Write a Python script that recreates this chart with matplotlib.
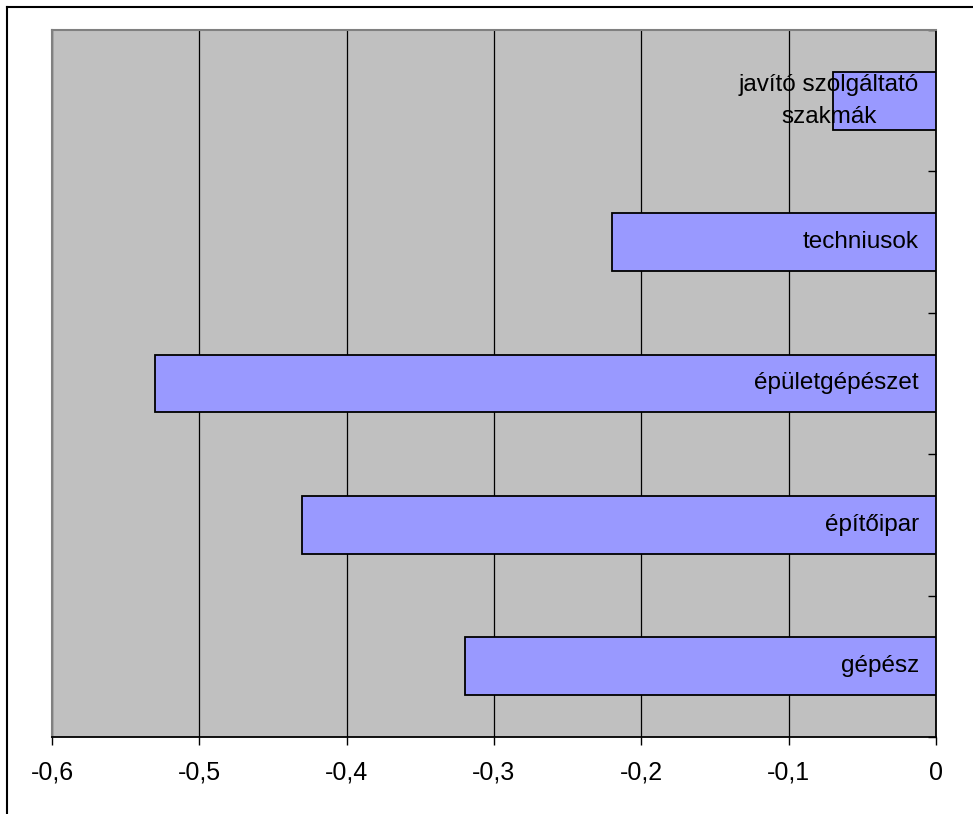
import matplotlib
matplotlib.use("Agg")
import matplotlib.pyplot as plt
from matplotlib.ticker import FuncFormatter, FixedLocator
from matplotlib.lines import Line2D

categories = ["gépész", "építőipar", "épületgépészet", "techniusok", "javító szolgáltató\nszakmák"]
values = [-0.32, -0.43, -0.53, -0.22, -0.07]
xticks = [-0.6, -0.5, -0.4, -0.3, -0.2, -0.1, 0.0]

plt.rcParams['font.family'] = ['Liberation Sans', 'DejaVu Sans']

fig = plt.figure(figsize=(9.73, 8.14), dpi=100)
ax = fig.add_axes([52/973, 1 - 737/814, (936-52)/973, (737-30)/814])
ax.set_facecolor('#C0C0C0')

ypos = list(range(len(categories)))
ax.barh(ypos, values, height=0.41, color='#9999FF', edgecolor='black', linewidth=1.3, zorder=3)

ax.set_xlim(-0.6, 0)
ax.set_ylim(-0.5, len(categories) - 0.5)
ax.xaxis.set_major_locator(FixedLocator(xticks))
ax.xaxis.set_major_formatter(FuncFormatter(lambda v, p: ("%g" % round(v, 2)).replace('.', ',') if abs(v) > 1e-9 else "0"))
ax.tick_params(axis='x', direction='out', length=6, width=1, labelsize=18, pad=11, colors='black')
ax.grid(axis='x', color='black', linewidth=0.9, zorder=1)
ax.set_axisbelow(True)

ax.yaxis.tick_right()
ax.yaxis.set_major_locator(FixedLocator([i - 0.5 for i in range(len(categories) + 1)]))
ax.yaxis.set_ticklabels([])
ax.tick_params(axis='y', direction='in', length=6, width=1, colors='black')

for s in ['left', 'top']:
    ax.spines[s].set_color('#808080')
    ax.spines[s].set_linewidth(1.5)
for s in ['bottom', 'right']:
    ax.spines[s].set_color('black')
    ax.spines[s].set_linewidth(1.3)

for y, lab in zip(ypos, categories):
    ax.annotate(lab, xy=(0, y), xytext=(-12.3, 0), textcoords='offset points',
                ha='right', va='center', multialignment='center', fontsize=17.5,
                color='black', zorder=5, linespacing=1.6)

fig.add_artist(Line2D([7/973, 7/973], [0, 1 - 7/814], color='black', linewidth=1.5, transform=fig.transFigure))
fig.add_artist(Line2D([7/973, 1], [1 - 7/814, 1 - 7/814], color='black', linewidth=1.5, transform=fig.transFigure))

fig.savefig('out.png', dpi=100)
